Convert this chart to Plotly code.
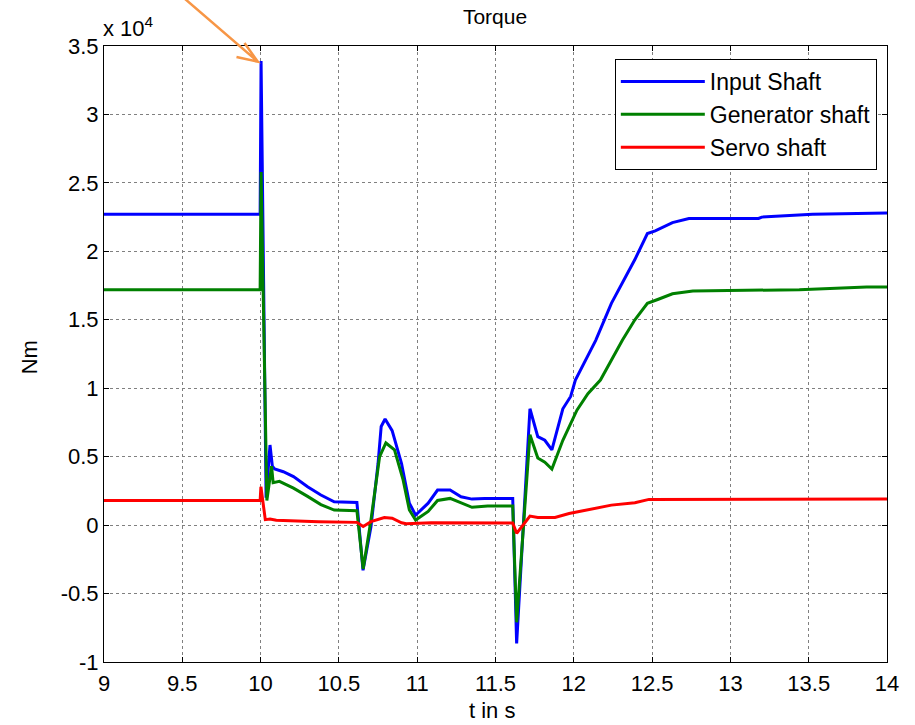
import plotly.graph_objects as go

# ---------------- data (values in units of 1e4 Nm) ----------------
input_t = [9.0, 9.997, 10.003, 10.035, 10.06, 10.075, 10.09, 10.145, 10.21, 10.30, 10.385, 10.47,
           10.615, 10.654, 10.705, 10.75, 10.77, 10.795, 10.84, 10.90, 10.95, 10.99, 11.07, 11.13,
           11.21, 11.28, 11.35, 11.43, 11.61, 11.635, 11.72, 11.77, 11.815, 11.86, 11.93, 11.98,
           12.01, 12.14, 12.24, 12.31, 12.39, 12.47, 12.52, 12.63, 12.735, 13.18, 13.2, 13.525,
           13.87, 14.0]
input_v = [2.27, 2.27, 3.39, 0.20, 0.585, 0.43, 0.41, 0.39, 0.355, 0.28, 0.22, 0.17,
           0.165, -0.33, -0.01, 0.45, 0.72, 0.775, 0.69, 0.45, 0.16, 0.073, 0.16, 0.256,
           0.256, 0.207, 0.19, 0.195, 0.195, -0.865, 0.85, 0.646, 0.62, 0.55, 0.85, 0.94,
           1.06, 1.35, 1.62, 1.77, 1.94, 2.13, 2.15, 2.21, 2.24, 2.24, 2.25, 2.27,
           2.28, 2.28]

gen_t = [9.0, 9.997, 10.003, 10.04, 10.07, 10.08, 10.12, 10.21, 10.30, 10.385,
         10.47, 10.615, 10.655, 10.705, 10.76, 10.80, 10.855, 10.91, 10.95, 10.99,
         11.07, 11.13, 11.21, 11.28, 11.35, 11.45, 11.61, 11.635, 11.72, 11.77,
         11.815, 11.86, 11.93, 12.02, 12.09, 12.17, 12.31, 12.39, 12.47, 12.54,
         12.63, 12.76, 13.44, 13.87, 14.0]
gen_v = [1.72, 1.72, 2.58, 0.18, 0.43, 0.31, 0.32, 0.27, 0.21, 0.15,
         0.11, 0.105, -0.32, 0.04, 0.5, 0.6, 0.55, 0.33, 0.11, 0.037,
         0.1, 0.18, 0.195, 0.16, 0.13, 0.14, 0.14, -0.71, 0.66, 0.49,
         0.46, 0.41, 0.62, 0.84, 0.96, 1.06, 1.35, 1.5, 1.62, 1.65,
         1.69, 1.71, 1.72, 1.74, 1.74]

servo_t = [9.0, 9.997, 10.002, 10.03, 10.06, 10.1, 10.37, 10.615, 10.655, 10.705,
           10.79, 10.84, 10.9, 10.93, 11.09, 11.15, 11.61, 11.635, 11.72, 11.77,
           11.88, 11.97, 12.09, 12.24, 12.39, 12.48, 14.0]
servo_v = [0.18, 0.18, 0.28, 0.04, 0.045, 0.035, 0.025, 0.02, -0.01, 0.025,
           0.056, 0.05, 0.017, 0.01, 0.017, 0.017, 0.015, -0.06, 0.066, 0.056,
           0.056, 0.085, 0.11, 0.146, 0.163, 0.188, 0.19]

series_names = ["Input Shaft", "Generator shaft", "Servo shaft"]

x_tickvals = [9, 9.5, 10, 10.5, 11, 11.5, 12, 12.5, 13, 13.5, 14]
x_ticktext = ["9", "9.5", "10", "10.5", "11", "11.5", "12", "12.5", "13", "13.5", "14"]
y_tickvals = [-1, -0.5, 0, 0.5, 1, 1.5, 2, 2.5, 3, 3.5]
y_ticktext = ["-1", "-0.5", "0", "0.5", "1", "1.5", "2", "2.5", "3", "3.5"]

# ---------------- figure ----------------
FONT = "Liberation Sans, Arial, sans-serif"
fig = go.Figure()
for t, v, name, color in [(input_t, input_v, series_names[0], "#0000FF"),
                          (gen_t, gen_v, series_names[1], "#008000"),
                          (servo_t, servo_v, series_names[2], "#FF0000")]:
    fig.add_trace(go.Scatter(x=t, y=v, mode="lines", name=name,
                             line=dict(color=color, width=3)))

axis_common = dict(showline=True, linecolor="black", linewidth=1, mirror="ticks",
                   ticks="inside", ticklen=5, tickcolor="black", tickwidth=1,
                   showgrid=True, gridcolor="#808080", griddash="dot", gridwidth=1,
                   zeroline=False, tickfont=dict(family=FONT, size=22, color="black"))

fig.update_xaxes(range=[9, 14], tickvals=x_tickvals, ticktext=x_ticktext,
                 ticklabelstandoff=2, **axis_common)
fig.update_yaxes(range=[-1, 3.5], tickvals=y_tickvals, ticktext=y_ticktext, **axis_common)

fig.update_layout(
    width=915, height=725, autosize=False,
    margin=dict(l=104, r=28, t=46, b=63),
    paper_bgcolor="white", plot_bgcolor="white",
    font=dict(family=FONT, size=22, color="black"),
    title=dict(text="Torque", x=495 / 915, xanchor="center",
               y=1 - 17 / 725, yanchor="middle", yref="container",
               font=dict(family=FONT, size=21, color="black")),
    showlegend=True,
    legend=dict(x=0.987, y=0.979, xanchor="right", yanchor="top",
                bgcolor="white", bordercolor="black", borderwidth=1,
                font=dict(family=FONT, size=23, color="black"),
                itemwidth=84, tracegroupgap=0),
)

# axis labels & exponent
fig.add_annotation(text="Nm", x=-0.0955, y=0.495, xref="paper", yref="paper",
                   xanchor="center", yanchor="middle",
                   textangle=-90, showarrow=False, font=dict(family=FONT, size=22))
fig.add_annotation(text="t in s", x=0.496, y=-0.0795, xref="paper", yref="paper",
                   xanchor="center", yanchor="middle",
                   showarrow=False, font=dict(family=FONT, size=22))
fig.add_annotation(text="x 10<sup>4</sup>", x=0.0, y=1.0, xref="paper", yref="paper",
                   xanchor="left", yanchor="bottom", showarrow=False, yshift=3, xshift=-3,
                   font=dict(family=FONT, size=22))

# orange arrow pointing at the peak
orange = "#F79646"
fig.add_shape(type="path", xref="paper", yref="paper",
              path="M 0.0976 1.0828 L 0.1964 0.9745 M 0.1692 0.9821 L 0.1964 0.9745 L 0.1794 1.0049",
              line=dict(color=orange, width=2.5))

fig.write_html("out.html")
